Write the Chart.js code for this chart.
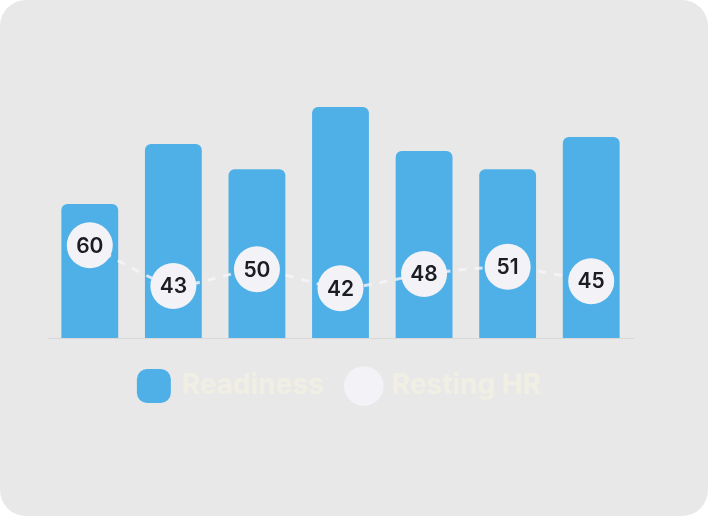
<!DOCTYPE html>
<html><head><meta charset="utf-8">
<script src="https://cdn.jsdelivr.net/npm/chart.js@4"></script>
<style>
html,body{margin:0;padding:0;background:#fff;}
#card{position:absolute;left:0;top:0;width:708px;height:516px;background:#e8e8e8;border-radius:26px;overflow:hidden;}
canvas{display:block;}
</style></head><body>
<div id="card"><canvas id="c" width="708" height="516"></canvas></div>
<script>
const categories = ["Mon","Tue","Wed","Thu","Fri","Sat","Sun"];
const readiness = [58, 84, 73, 100, 81, 73, 87];
const restingHR = [60, 43, 50, 42, 48, 51, 45];

const pointLabels = {
  id:'pointLabels',
  afterDatasetsDraw(chart){
    const ctx = chart.ctx;
    const meta = chart.getDatasetMeta(1);
    ctx.save();
    ctx.font = '600 21px Inter, sans-serif';
    ctx.fillStyle = '#1c1c24';
    ctx.textAlign = 'center'; ctx.textBaseline = 'middle';
    meta.data.forEach((p,i)=>{ ctx.fillText(String(restingHR[i]), p.x, p.y+1); });
    ctx.restore();
  }
};

new Chart(document.getElementById('c'), {
  data:{
    labels:categories,
    datasets:[
      {type:'bar', label:'Readiness', data:readiness, backgroundColor:'#4fb0e8',
       borderRadius:{topLeft:6,topRight:6}, borderSkipped:'bottom',
       barPercentage:0.68, categoryPercentage:1, yAxisID:'y', order:2, pointStyle:'rectRounded'},
      {type:'line', label:'Resting HR', data:restingHR, yAxisID:'y2', order:1,
       borderColor:'rgba(245,245,250,0.8)', borderWidth:3, borderDash:[8,8],
       pointRadius:23, pointBackgroundColor:'#f2f2f7', pointBorderWidth:0,
       pointStyle:'circle', tension:0.2}
    ]
  },
  options:{
    responsive:false, animation:false,
    layout:{padding:{top:40,left:48,right:75,bottom:106}},
    scales:{
      x:{offset:true, grid:{display:false}, border:{display:true,color:'#d8d8d8',width:1}, ticks:{display:false}},
      y:{min:0,max:129,display:false},
      y2:{min:21.2,max:146,display:false}
    },
    plugins:{
      tooltip:{enabled:false},
      legend:{position:'bottom', labels:{usePointStyle:true, boxWidth:28, boxHeight:28, padding:26,
        sort:(a,b)=>a.datasetIndex-b.datasetIndex,
        color:'#f1efe4', font:{family:'Inter, sans-serif', size:28, weight:'bold'}}}
    }
  },
  plugins:[pointLabels]
});
</script>
</body></html>
